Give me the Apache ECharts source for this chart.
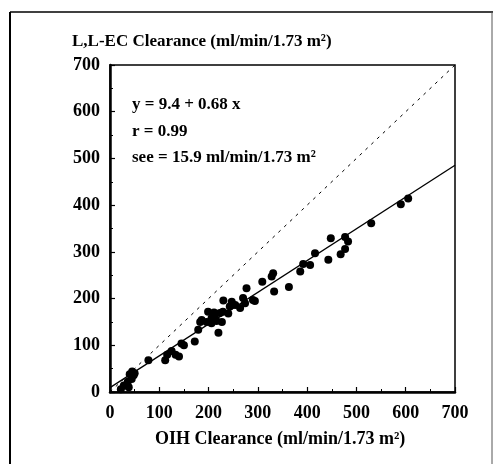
<!DOCTYPE html>
<html>
<head>
<meta charset="utf-8">
<script src="https://cdn.jsdelivr.net/npm/echarts@6/dist/echarts.min.js"></script>
<style>
  html, body { margin: 0; padding: 0; background: #fff; }
  #chart { width: 503px; height: 464px; }
</style>
</head>
<body>
<div id="chart"></div>
<script>
// OIH clearance (x) vs L,L-EC clearance (y), ml/min/1.73 m²
const points = [
  [22, 6], [28, 14], [38, 10], [36, 22], [44, 28], [48, 36], [40, 38], [45, 44], [50, 40],
  [78, 68], [112, 68], [116, 80], [125, 88], [133, 80], [140, 76], [145, 104], [150, 100],
  [172, 108], [179, 133], [186, 154], [183, 150], [196, 150], [199, 172], [206, 147],
  [206, 158], [213, 158], [211, 170], [216, 152], [220, 127], [223, 169], [227, 150],
  [230, 196], [229, 172], [240, 168], [243, 183], [247, 193], [254, 186], [264, 180],
  [274, 190], [270, 201], [277, 222], [290, 197], [294, 195], [309, 236], [328, 247],
  [331, 254], [333, 215], [363, 225], [386, 258], [392, 274], [406, 272], [416, 297],
  [443, 283], [448, 329], [468, 295], [477, 306], [477, 332], [483, 322], [530, 361],
  [590, 402], [605, 414]
];
// regression line y = 9.4 + 0.68 x, endpoints at the axis limits
const fitLine = [[0, 9.4], [700, 485.4]];
// line of identity
const identityLine = [[0, 0], [700, 700]];
const tickValues = [0, 100, 200, 300, 400, 500, 600, 700];
const yTitle = 'L,L-EC Clearance (ml/min/1.73 m²)';
const xTitle = 'OIH Clearance (ml/min/1.73 m²)';
const annotations = ['y = 9.4 + 0.68 x', 'r = 0.99', 'see = 15.9 ml/min/1.73 m²'];

const FONT = '"Liberation Serif", "DejaVu Serif", serif';
const chart = echarts.init(document.getElementById('chart'), null, { renderer: 'canvas' });

const axisCommon = {
  type: 'value',
  min: 0,
  max: 700,
  interval: 100,
  splitLine: { show: false },
  axisLine: { show: true, onZero: false, lineStyle: { color: '#000', width: 2.5 } },
  axisTick: { show: true, inside: true, length: 5, lineStyle: { color: '#000', width: 1.2 } },
  minorTick: { show: true, splitNumber: 2, length: 3, lineStyle: { color: '#000', width: 1 } },
  axisLabel: {
    color: '#000', fontFamily: FONT, fontWeight: 'bold', fontSize: 18,
    formatter: v => tickValues.includes(v) ? String(v) : ''
  }
};

chart.setOption({
  animation: false,
  backgroundColor: '#fff',
  grid: {
    left: 110, right: 48, top: 65, bottom: 72,
    show: true, borderColor: '#000', borderWidth: 1.5, backgroundColor: 'transparent'
  },
  xAxis: Object.assign({}, axisCommon, {
    axisLabel: Object.assign({}, axisCommon.axisLabel, { margin: 12 })
  }),
  yAxis: Object.assign({}, axisCommon, {
    axisLabel: Object.assign({}, axisCommon.axisLabel, { margin: 10 })
  }),
  series: [
    {
      type: 'line',
      data: identityLine,
      symbol: 'none',
      lineStyle: { color: '#000', width: 1, type: [3, 5] },
      silent: true
    },
    {
      type: 'line',
      data: fitLine,
      symbol: 'none',
      lineStyle: { color: '#000', width: 1.3 },
      silent: true
    },
    {
      type: 'scatter',
      data: points,
      symbol: 'circle',
      symbolSize: 8,
      itemStyle: { color: '#000', opacity: 1 }
    }
  ],
  graphic: [
    { type: 'line', shape: { x1: 10, y1: 12, x2: 493, y2: 12 }, style: { stroke: '#000', lineWidth: 1.5 } },
    { type: 'line', shape: { x1: 10, y1: 12, x2: 10, y2: 464 }, style: { stroke: '#000', lineWidth: 2 } },
    { type: 'line', shape: { x1: 492, y1: 12, x2: 492, y2: 464 }, style: { stroke: '#555', lineWidth: 1 } },
    { type: 'text', left: 72, top: 33, style: { text: yTitle, fill: '#000', font: 'bold 17px ' + FONT } },
    { type: 'text', left: 155, top: 430, style: { text: xTitle, fill: '#000', font: 'bold 18px ' + FONT } },
    { type: 'text', left: 132, top: 96, style: { text: annotations[0], fill: '#000', font: 'bold 17px ' + FONT } },
    { type: 'text', left: 132, top: 123, style: { text: annotations[1], fill: '#000', font: 'bold 17px ' + FONT } },
    { type: 'text', left: 132, top: 149, style: { text: annotations[2], fill: '#000', font: 'bold 17px ' + FONT } }
  ]
});
</script>
</body>
</html>
